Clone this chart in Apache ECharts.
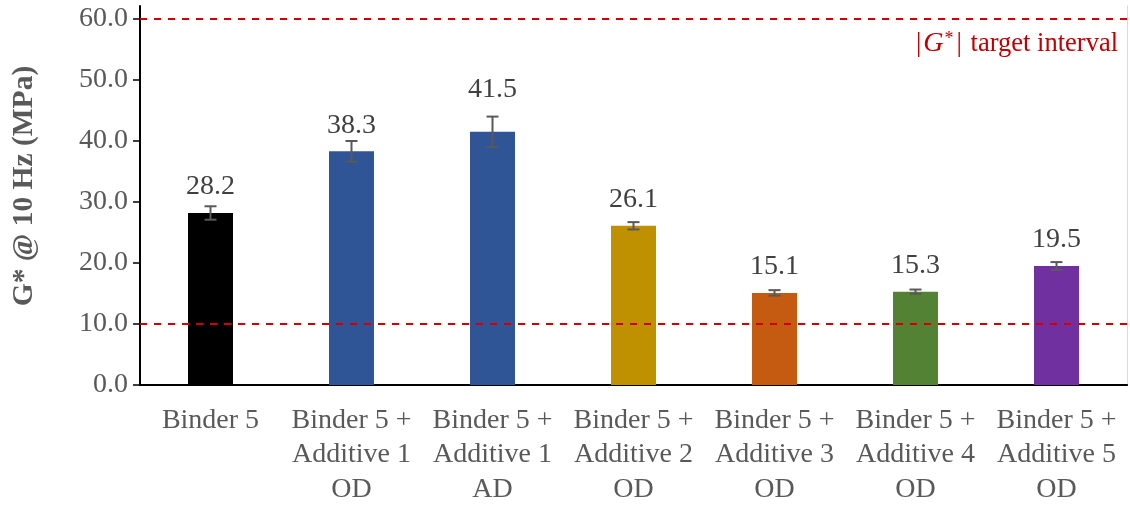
<!DOCTYPE html>
<html>
<head>
<meta charset="utf-8">
<script src="https://cdn.jsdelivr.net/npm/echarts@6/dist/echarts.min.js"></script>
<style>
  html, body { margin: 0; padding: 0; background: #fff; }
  #chart { width: 1130px; height: 506px; }
</style>
</head>
<body>
<div id="chart"></div>
<script>
// G* values per sample
const categories = [
  'Binder 5',
  'Binder 5 +\nAdditive 1\nOD',
  'Binder 5 +\nAdditive 1\nAD',
  'Binder 5 +\nAdditive 2\nOD',
  'Binder 5 +\nAdditive 3\nOD',
  'Binder 5 +\nAdditive 4\nOD',
  'Binder 5 +\nAdditive 5\nOD'
];
const gStar = [28.2, 38.3, 41.5, 26.1, 15.1, 15.3, 19.5];
const errors = [1.1, 1.7, 2.5, 0.6, 0.45, 0.35, 0.65];
const barColors = ['#000000', '#2F5597', '#2F5597', '#BF9000', '#C55A11', '#548235', '#7030A0'];
const yTicks = [0, 10, 20, 30, 40, 50, 60];
const targetLimits = [10, 60];
const yTitle = 'G* @ 10 Hz (MPa)';

const font = '"Liberation Serif", "Times New Roman", serif';
const yMax = 62.13;

const chart = echarts.init(document.getElementById('chart'));

const barData = gStar.map((v, i) => {
  const item = { value: v, itemStyle: { color: barColors[i] } };
  // label of the 3rd bar sits above its error bar
  if (i === 2) item.label = { distance: 28 };
  return item;
});

const option = {
  animation: false,
  grid: { left: 140, right: 3, top: 6, bottom: 121, outerBoundsMode: 'none' },
  xAxis: [
    {
      type: 'category',
      data: categories,
      axisLine: { lineStyle: { color: '#000', width: 2 } },
      axisTick: { show: false },
      axisLabel: {
        interval: 0,
        margin: 18,
        fontFamily: font,
        fontSize: 28,
        lineHeight: 34.5,
        color: '#595959'
      }
    },
    {
      type: 'category',
      position: 'top',
      data: categories,
      axisLine: { lineStyle: { color: '#000', width: 1.5 } },
      axisTick: { show: false },
      axisLabel: { show: false }
    }
  ],
  yAxis: [
    {
      type: 'value',
      min: 0,
      max: yMax,
      interval: 10,
      splitLine: { show: false },
      axisLine: { show: true, lineStyle: { color: '#000', width: 2 } },
      axisTick: {
        show: true,
        length: 7,
        customValues: yTicks,
        lineStyle: { color: '#000', width: 1.5 }
      },
      axisLabel: {
        margin: 12,
        customValues: yTicks,
        formatter: v => v.toFixed(1),
        fontFamily: font,
        fontSize: 28,
        color: '#595959'
      }
    },
    {
      type: 'value',
      position: 'right',
      min: 0,
      max: yMax,
      interval: 10,
      splitLine: { show: false },
      axisLine: { show: true, lineStyle: { color: '#D9D9D9', width: 1 } },
      axisTick: { show: false },
      axisLabel: { show: false }
    }
  ],
  series: [
    {
      type: 'bar',
      data: barData,
      barWidth: 45,
      label: {
        show: true,
        position: 'top',
        distance: 12,
        formatter: p => p.value.toFixed(1),
        fontFamily: font,
        fontSize: 28,
        color: '#404040'
      },
      markLine: {
        silent: true,
        symbol: 'none',
        label: { show: false },
        lineStyle: { color: '#D00000', width: 2, type: [7, 7] },
        data: targetLimits.map(v => ({ yAxis: v }))
      }
    },
    {
      type: 'custom',
      data: gStar.map((v, i) => [i, v, errors[i]]),
      z: 5,
      renderItem: (params, api) => {
        const x = api.value(0);
        const v = api.value(1);
        const e = api.value(2);
        const top = api.coord([x, v + e]);
        const bot = api.coord([x, v - e]);
        const hw = 6;
        const style = { stroke: '#595959', lineWidth: 2 };
        return {
          type: 'group',
          children: [
            { type: 'line', shape: { x1: top[0], y1: top[1], x2: bot[0], y2: bot[1] }, style },
            { type: 'line', shape: { x1: top[0] - hw, y1: top[1], x2: top[0] + hw, y2: top[1] }, style },
            { type: 'line', shape: { x1: bot[0] - hw, y1: bot[1], x2: bot[0] + hw, y2: bot[1] }, style }
          ]
        };
      }
    }
  ],
  graphic: [
    {
      // y axis title
      type: 'text',
      x: 24,
      y: 186,
      rotation: Math.PI / 2,
      style: {
        text: yTitle,
        fill: '#595959',
        font: 'bold 29.5px ' + font,
        align: 'center',
        verticalAlign: 'middle'
      }
    },
    {
      type: 'text',
      right: 12,
      top: 30,
      style: {
        text: '{n||}{g|G}{s|*}{n||} target interval',
        fill: '#C00000',
        font: '26.5px ' + font,
        rich: {
          n: { fontFamily: font, fontSize: 27, fill: '#C00000', padding: [0, 2, 0, 2] },
          g: { fontFamily: font, fontSize: 28, fontStyle: 'italic', fill: '#C00000' },
          s: { fontFamily: font, fontSize: 18, fill: '#C00000', verticalAlign: 'top', lineHeight: 28, padding: [0, 1, 0, 1] }
        }
      }
    }
  ]
};

chart.setOption(option);
</script>
</body>
</html>
